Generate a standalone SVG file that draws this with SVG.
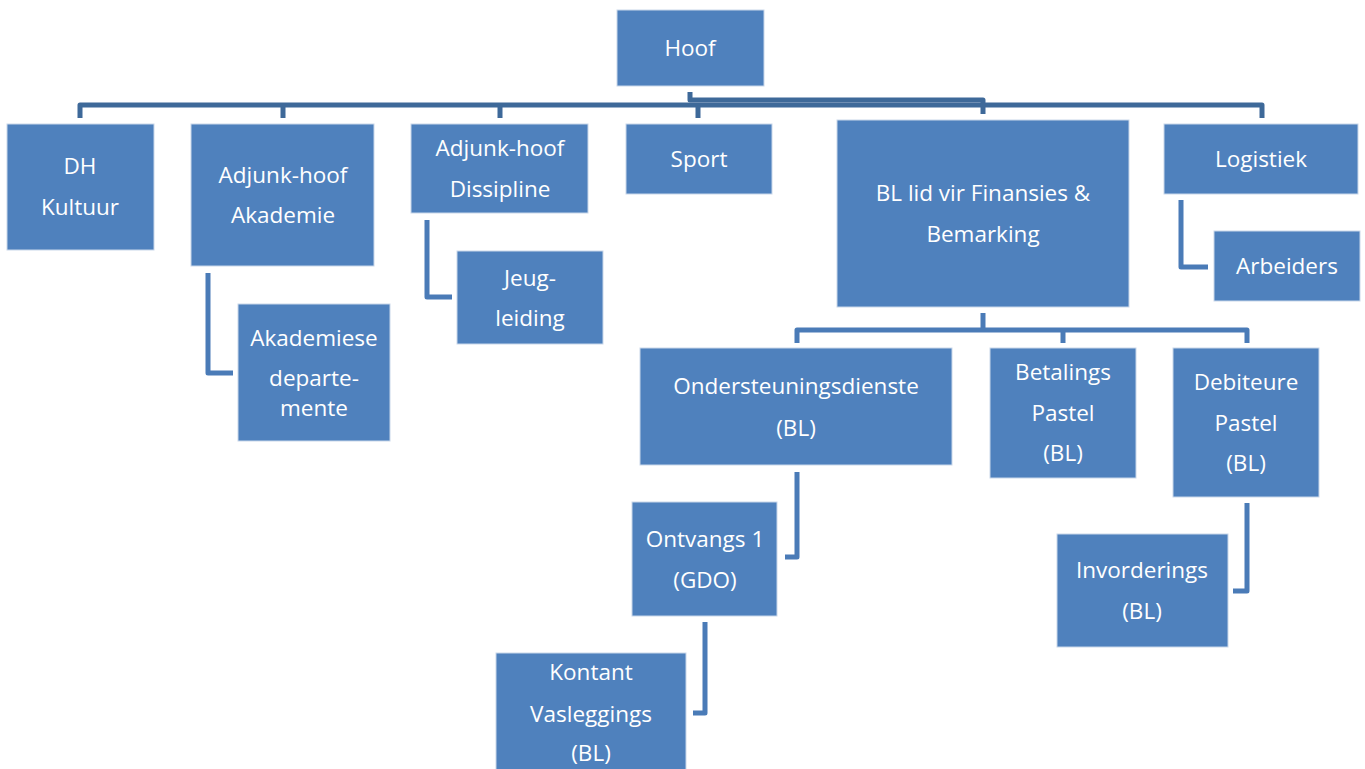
<svg xmlns="http://www.w3.org/2000/svg" width="1365" height="769" viewBox="0 0 1365 769">
<style>
.box{fill:#4f81bd;stroke:#c9d7ea;stroke-width:1}
.t{font-family:"Open Sans","Liberation Sans",sans-serif;font-size:22.5px;fill:#ffffff;text-anchor:middle}
.bus{fill:none;stroke:#3e6999;stroke-width:5;stroke-linejoin:round}
.el{fill:none;stroke:#4a7bb7;stroke-width:5;stroke-linejoin:round}
</style>
<rect width="1365" height="769" fill="#ffffff"/>
<g id="connectors">
<path class="bus" d="M80,118 V105 H1262 V118"/>
<path class="bus" d="M690,92 V100 H983 V114"/>
<path class="bus" d="M283,105 V118 M500,105 V118 M698,105 V118"/>
<path class="el" d="M983,313 V330"/>
<path class="el" d="M797,343 V330 H1247 V343"/>
<path class="el" d="M1063,330 V343"/>
<path class="el" d="M208,273 V373 H233"/>
<path class="el" d="M427,220 V297 H452"/>
<path class="el" d="M1181,200 V267 H1208"/>
<path class="el" d="M797,472 V557 H785"/>
<path class="el" d="M705,622 V713 H693"/>
<path class="el" d="M1247,503 V591 H1233"/>
</g>
<g id="hoof"><rect class="box" x="617" y="10" width="147" height="76"/><text class="t" x="690" y="56">Hoof</text></g>
<g id="dh-kultuur"><rect class="box" x="7" y="124" width="147" height="126"/><text class="t" x="80" y="174">DH</text><text class="t" x="80" y="215">Kultuur</text></g>
<g id="adjunk-akademie"><rect class="box" x="191" y="124" width="183" height="142"/><text class="t" x="283" y="183">Adjunk-hoof</text><text class="t" x="283" y="223">Akademie</text></g>
<g id="adjunk-dissipline"><rect class="box" x="411" y="124" width="177" height="89"/><text class="t" x="500" y="156">Adjunk-hoof</text><text class="t" x="500" y="197">Dissipline</text></g>
<g id="sport"><rect class="box" x="626" y="124" width="146" height="70"/><text class="t" x="699" y="167">Sport</text></g>
<g id="bl-finansies"><rect class="box" x="837" y="120" width="292" height="187"/><text class="t" x="983" y="201">BL lid vir Finansies &amp;</text><text class="t" x="983" y="242">Bemarking</text></g>
<g id="logistiek"><rect class="box" x="1164" y="124" width="194" height="70"/><text class="t" x="1261" y="167">Logistiek</text></g>
<g id="arbeiders"><rect class="box" x="1214" y="231" width="146" height="70"/><text class="t" x="1287" y="274">Arbeiders</text></g>
<g id="jeugleiding"><rect class="box" x="457" y="251" width="146" height="93"/><text class="t" x="530" y="286">Jeug-</text><text class="t" x="530" y="326">leiding</text></g>
<g id="akademiese"><rect class="box" x="238" y="304" width="152" height="137"/><text class="t" x="314" y="346">Akademiese</text><text class="t" x="314" y="386">departe-</text><text class="t" x="314" y="416">mente</text></g>
<g id="ondersteuning"><rect class="box" x="640" y="348" width="312" height="117"/><text class="t" x="796" y="394">Ondersteuningsdienste</text><text class="t" x="796" y="436">(BL)</text></g>
<g id="betalings"><rect class="box" x="990" y="348" width="146" height="130"/><text class="t" x="1063" y="380">Betalings</text><text class="t" x="1063" y="421">Pastel</text><text class="t" x="1063" y="461">(BL)</text></g>
<g id="debiteure"><rect class="box" x="1173" y="348" width="146" height="149"/><text class="t" x="1246" y="390">Debiteure</text><text class="t" x="1246" y="431">Pastel</text><text class="t" x="1246" y="471">(BL)</text></g>
<g id="ontvangs"><rect class="box" x="632" y="502" width="145" height="114"/><text class="t" x="705" y="547">Ontvangs 1</text><text class="t" x="705" y="588">(GDO)</text></g>
<g id="invorderings"><rect class="box" x="1057" y="534" width="171" height="113"/><text class="t" x="1142" y="578">Invorderings</text><text class="t" x="1142" y="619">(BL)</text></g>
<g id="kontant"><rect class="box" x="496" y="653" width="190" height="120"/><text class="t" x="591" y="680">Kontant</text><text class="t" x="591" y="722">Vasleggings</text><text class="t" x="591" y="761">(BL)</text></g>
</svg>
